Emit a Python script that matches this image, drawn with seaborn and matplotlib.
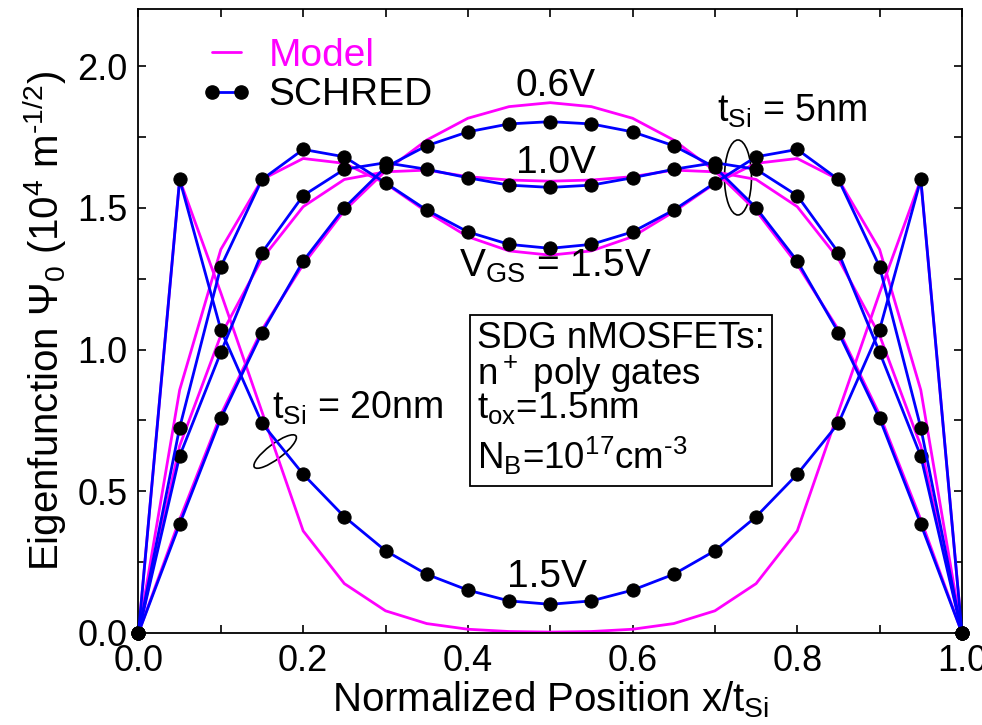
import matplotlib
matplotlib.use('Agg')
import numpy as np
import pandas as pd
import matplotlib.pyplot as plt
import seaborn as sns
from matplotlib.lines import Line2D
from matplotlib.patches import Ellipse, Rectangle
from matplotlib.transforms import ScaledTranslation

# ==============================
# Datos
# ==============================
x_pos = [0.00, 0.05, 0.10, 0.15, 0.20, 0.25, 0.30, 0.35, 0.40, 0.45, 0.50,
         0.55, 0.60, 0.65, 0.70, 0.75, 0.80, 0.85, 0.90, 0.95, 1.00]

# tSi = 20nm, VGS = 1.5V
schred_20nm_15 = [0, 1.60, 1.07, 0.74, 0.56, 0.41, 0.29, 0.207, 0.151, 0.113, 0.101,
                  0.113, 0.151, 0.207, 0.29, 0.41, 0.56, 0.74, 1.07, 1.60, 0]
model_20nm_15 = [0, 1.60, 1.20, 0.78, 0.36, 0.174, 0.078, 0.033, 0.013, 0.005, 0.003,
                 0.005, 0.013, 0.033, 0.078, 0.174, 0.36, 0.78, 1.20, 1.60, 0]

# tSi = 5nm, VGS = 0.6V
schred_5nm_06 = [0, 0.384, 0.757, 1.06, 1.312, 1.50, 1.643, 1.719, 1.768, 1.796, 1.804,
                 1.796, 1.768, 1.719, 1.643, 1.50, 1.312, 1.06, 0.757, 0.384, 0]
model_5nm_06 = [0, 0.40, 0.77, 1.07, 1.30, 1.49, 1.63, 1.739, 1.816, 1.857, 1.871,
                1.857, 1.816, 1.739, 1.63, 1.49, 1.30, 1.07, 0.77, 0.40, 0]

# tSi = 5nm, VGS = 1.0V
schred_5nm_10 = [0, 0.624, 0.99, 1.342, 1.543, 1.636, 1.659, 1.636, 1.606, 1.580, 1.572,
                 1.580, 1.606, 1.636, 1.659, 1.636, 1.543, 1.342, 0.99, 0.624, 0]
model_5nm_10 = [0, 0.66, 1.05, 1.32, 1.504, 1.60, 1.627, 1.633, 1.610, 1.598, 1.594,
                1.598, 1.610, 1.633, 1.627, 1.60, 1.504, 1.32, 1.05, 0.66, 0]

# tSi = 5nm, VGS = 1.5V
schred_5nm_15 = [0, 0.724, 1.292, 1.60, 1.706, 1.680, 1.588, 1.492, 1.415, 1.371, 1.357,
                 1.371, 1.415, 1.492, 1.588, 1.680, 1.706, 1.60, 1.292, 0.724, 0]
model_5nm_15 = [0, 0.857, 1.353, 1.60, 1.674, 1.657, 1.586, 1.486, 1.398, 1.348, 1.333,
                1.348, 1.398, 1.486, 1.586, 1.657, 1.674, 1.60, 1.353, 0.857, 0]

curve_names = ['20nm_1.5V', '5nm_0.6V', '5nm_1.0V', '5nm_1.5V']
model_curves = [model_20nm_15, model_5nm_06, model_5nm_10, model_5nm_15]
schred_curves = [schred_20nm_15, schred_5nm_06, schred_5nm_10, schred_5nm_15]

frames = []
for name, m, s in zip(curve_names, model_curves, schred_curves):
    frames.append(pd.DataFrame({'x': x_pos, 'psi': m, 'curve': name, 'source': 'Model'}))
    frames.append(pd.DataFrame({'x': x_pos, 'psi': s, 'curve': name, 'source': 'SCHRED'}))
df = pd.concat(frames, ignore_index=True)

# ==============================
# Estilo
# ==============================
sns.set_style('ticks')
plt.rcParams['font.family'] = ['Liberation Sans', 'DejaVu Sans']
plt.rcParams['mathtext.fontset'] = 'custom'
plt.rcParams['mathtext.rm'] = 'Liberation Sans'
plt.rcParams['mathtext.it'] = 'Liberation Sans:italic'
plt.rcParams['mathtext.bf'] = 'Liberation Sans:bold'
for key in ['text.color', 'axes.labelcolor', 'xtick.color', 'ytick.color', 'axes.edgecolor']:
    plt.rcParams[key] = 'black'

MAGENTA = '#ff00ff'
BLUE = '#0000ff'
FS = 28

fig, ax = plt.subplots(figsize=(9.82, 7.25), dpi=100)
fig.subplots_adjust(left=0.141, right=0.9796, bottom=0.127, top=0.987)

sns.lineplot(data=df[df['source'] == 'Model'], x='x', y='psi', units='curve',
             estimator=None, sort=False, color=MAGENTA, lw=2.0, ax=ax)
sns.lineplot(data=df[df['source'] == 'SCHRED'], x='x', y='psi', units='curve',
             estimator=None, sort=False, color=BLUE, lw=2.0, marker='o',
             markersize=9.5, markerfacecolor='black', markeredgecolor='black',
             ax=ax, clip_on=False, zorder=3)

ax.set_xlim(0, 1.0)
ax.set_ylim(0, 2.2)
ax.set_xticks(np.arange(0, 1.01, 0.2))
ax.set_xticks(np.arange(0, 1.01, 0.1), minor=True)
ax.set_yticks(np.arange(0, 2.01, 0.5))
ax.set_yticks(np.arange(0, 2.2, 0.25), minor=True)
ax.xaxis.set_major_formatter(matplotlib.ticker.FormatStrFormatter('%.1f'))
ax.yaxis.set_major_formatter(matplotlib.ticker.FormatStrFormatter('%.1f'))
ax.tick_params(which='both', direction='in', top=True, right=True, width=1.2,
               labelsize=26, pad=8)
ax.tick_params(which='major', length=6)
ax.tick_params(which='minor', length=5.5)
for sp in ax.spines.values():
    sp.set_linewidth(1.3)

ax.set_xlabel(r'Normalized Position x/$\mathregular{t_{Si}}$', fontsize=29, labelpad=0)
ax.set_ylabel(r'Eigenfunction $\mathregular{\Psi_0}$ ($\mathregular{10^4}$ m$\mathregular{^{\text{-}1/2}}$)',
              fontsize=29, labelpad=6)

# Leyenda
handles = [Line2D([], [], color=MAGENTA, lw=2.0),
           Line2D([], [], color=BLUE, lw=2.0, marker='o', markersize=9.5,
                  markerfacecolor='black', markeredgecolor='black')]
leg = ax.legend(handles, ['Model', 'SCHRED'], loc='upper left',
                bbox_to_anchor=(0.075, 0.954), frameon=False, fontsize=FS,
                numpoints=2, handlelength=1.36, handletextpad=0.39,
                labelspacing=0.08, borderpad=0, borderaxespad=0)
leg.get_texts()[0].set_color(MAGENTA)

# Anotaciones
ax.text(0.458, 1.894, '0.6V', fontsize=FS, va='baseline')
ax.text(0.458, 1.622, '1.0V', fontsize=FS, va='baseline')
ax.text(0.389, 1.257, r'$\mathregular{V_{GS}}$ = 1.5V', fontsize=FS, va='baseline')
ax.text(0.448, 0.162, '1.5V', fontsize=FS, va='baseline')
ax.text(0.702, 1.804, r'$\mathregular{t_{Si}}$ = 5nm', fontsize=27, va='baseline')
ax.text(0.162, 0.757, r'$\mathregular{t_{Si}}$ = 20nm', fontsize=27, va='baseline')

# Cuadro de parámetros
BOX_FS = 26.5
ax.add_patch(Rectangle((0.403, 0.518), 0.366, 0.603, fill=False, ec='black', lw=1.3))
ax.text(0.411, 1.004, 'SDG nMOSFETs:', fontsize=BOX_FS, va='baseline')
ax.text(0.411, 0.877, r'n$\mathregular{^+}$ poly gates', fontsize=BOX_FS, va='baseline')
ax.text(0.411, 0.757, r'$\mathregular{t_{ox}}$=1.5nm', fontsize=BOX_FS, va='baseline')
ax.text(0.411, 0.580, r'$\mathregular{N_B}$=10$\mathregular{^{17}}$cm$\mathregular{^{\text{-}3}}$',
        fontsize=BOX_FS, va='baseline')

# Elipses
for (cx, cy), w, h, ang in [((0.728, 1.607), 0.27, 0.75, 0),
                            ((0.166, 0.640), 0.52, 0.15, 37)]:
    tr = fig.dpi_scale_trans + ScaledTranslation(cx, cy, ax.transData)
    ax.add_patch(Ellipse((0, 0), w, h, angle=ang, fill=False, ec='black',
                         lw=1.2, transform=tr))

fig.savefig('out.png', dpi=100)
